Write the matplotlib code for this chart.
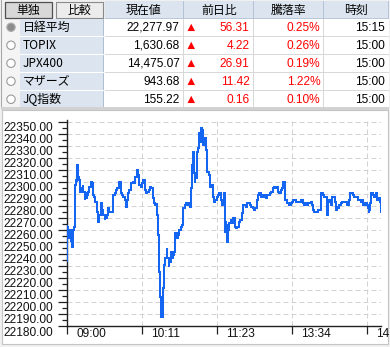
import matplotlib
matplotlib.use('Agg')
import matplotlib.pyplot as plt
from matplotlib.patches import Rectangle, Circle, Polygon
import matplotlib.transforms as mtrans
import numpy as np

W, H, DPI = 390, 347, 100

# ---------------- data ----------------
buttons = ['単独', '比較']
header_labels = ['現在値', '前日比', '騰落率', '時刻']
index_names = ['日経平均', 'TOPIX', 'JPX400', 'マザーズ', 'JQ指数']
prices = ['22,277.97', '1,630.68', '14,475.07', '943.68', '155.22']
changes = ['56.31', '4.22', '26.91', '11.42', '0.16']
change_pct = ['0.25%', '0.26%', '0.19%', '1.22%', '0.10%']
update_times = ['15:15', '15:00', '15:00', '15:00', '15:00']

# trading minutes since 09:00 (lunch break removed)
minutes = [
    0.0, 0.3, 0.6, 1.2, 1.9, 3.1, 3.8, 4.4, 5.0, 5.6, 6.3, 6.9, 7.5, 8.2, 8.8, 9.4, 10.1, 10.7, 11.3,
    12.6, 13.2, 13.9, 15.1, 15.7, 17.0, 17.6, 18.3, 19.5, 20.2, 21.4, 22.7, 23.9, 24.6, 25.9, 27.1,
    28.4, 29.0, 29.6, 30.9, 32.2, 33.4, 34.7, 35.9, 36.6, 37.8, 39.1, 40.4, 41.6, 42.9, 44.2, 45.4,
    46.7, 47.9, 49.2, 49.8, 51.1, 52.4, 53.6, 54.9, 56.1, 56.8, 58.0, 59.3, 60.6, 61.8, 63.1, 63.7,
    65.0, 66.2, 67.5, 68.8, 70.0, 71.3, 72.6, 73.8,
    75.1, 76.3, 77.6, 78.9, 80.1, 81.4, 82.7, 83.9, 85.2, 85.8, 86.4, 87.1, 88.3, 89.0, 89.6, 90.2,
    90.9, 91.5, 92.1, 93.4, 94.6, 95.3, 96.5, 97.2, 98.4, 99.7, 101.0, 101.6, 102.9, 104.1, 105.4,
    106.6, 107.9, 109.2, 110.4, 111.7, 113.0, 114.2, 115.5, 116.7, 118.0, 118.6, 119.3, 120.5, 121.2,
    121.8, 122.4, 123.1, 123.7, 124.3, 125.6, 126.2, 126.8, 127.5, 128.1, 128.7, 130.0, 131.3, 131.9,
    133.1, 134.4, 135.7, 136.9, 138.2, 139.5, 140.7, 142.0, 143.3, 144.5, 145.8, 147.0,
    147.7, 148.9, 149.5, 150.2, 150.8, 152.1, 152.7, 154.0, 155.2, 156.5, 157.8, 159.0, 160.3, 161.5,
    162.8, 164.1, 165.9, 166.6, 167.2, 168.5, 169.7, 171.0, 172.3, 173.5, 174.8, 176.1, 177.3, 178.6,
    179.8, 180.5, 181.1, 182.4, 183.6, 184.9, 186.2, 187.4, 188.7, 190.0, 191.2, 192.5, 193.7, 195.0,
    196.3, 197.5, 198.8, 200.0, 201.3, 202.6, 203.8, 205.1, 206.4, 207.0, 208.3, 209.5, 210.8, 212.0,
    213.3, 214.6, 215.8, 217.1, 218.3, 219.6,
    220.9, 222.1, 223.4, 224.6, 225.9, 227.2, 228.4, 229.7, 231.0, 232.2, 232.9, 234.1, 235.4, 236.6,
    237.9, 239.2, 240.4, 241.1, 242.3, 243.6, 244.8, 246.1, 246.7, 247.4, 248.6, 249.9, 251.2, 252.4,
    253.7, 254.3, 255.0, 255.6, 256.8, 258.1, 259.4, 260.6, 261.9, 263.2, 264.4, 265.7, 266.9, 268.2,
    269.5, 270.7, 272.0, 273.3, 274.5, 275.8, 277.0, 278.3, 279.6, 280.8, 282.1, 283.4, 284.6, 285.2,
    285.9, 286.5, 287.1, 288.4, 289.7, 290.9, 292.2, 292.8, 293.5, 294.1, 295.4, 296.6, 297.2, 297.9,
]
nikkei = [
    22234.0, 22264.0, 22262.6, 22259.9, 22252.9, 22259.9, 22250.2, 22252.9, 22246.0, 22250.2, 22259.9,
    22262.6, 22261.2, 22297.3, 22301.5, 22300.0, 22313.9, 22304.2, 22301.5,
    22291.8, 22296.0, 22293.2, 22297.3, 22291.8, 22284.8, 22290.4, 22286.2, 22288.9, 22291.8, 22296.0,
    22300.0, 22298.7, 22288.9, 22287.5, 22283.4,
    22280.6, 22275.1, 22266.8, 22272.3, 22282.0, 22276.5, 22272.3, 22268.2, 22269.5, 22272.3, 22277.9,
    22275.1, 22275.1, 22275.1, 22288.9, 22290.4,
    22293.1, 22294.5, 22294.5, 22300.0, 22290.4, 22288.9, 22287.5, 22284.8, 22279.3, 22284.8, 22290.4,
    22293.1, 22298.7, 22298.7, 22300.0, 22298.7,
    22304.2, 22309.8, 22305.6, 22297.3, 22296.0, 22298.7, 22301.5, 22293.1,
    22290.4, 22291.8, 22293.1, 22296.0, 22294.5, 22286.2, 22282.0, 22280.6, 22282.0, 22272.3, 22255.7,
    22225.2, 22204.4, 22186.4, 22191.9, 22187.8,
    22204.4, 22211.3, 22230.7, 22236.3, 22244.6, 22236.3, 22229.4, 22233.5, 22241.8, 22236.3, 22239.0,
    22241.8, 22257.1, 22252.9, 22255.7,
    22259.9, 22262.6, 22264.0, 22277.9, 22280.6, 22282.0, 22280.6, 22282.0, 22279.3, 22294.5, 22313.9,
    22325.0, 22307.0, 22298.7,
    22302.9, 22302.9, 22311.2, 22325.0, 22327.7, 22340.3, 22333.4, 22338.9, 22344.5, 22343.1, 22330.6,
    22334.7, 22336.1, 22326.4,
    22308.4, 22305.6, 22296.0, 22297.3, 22287.5, 22283.4, 22284.8, 22287.5, 22288.9, 22290.4, 22284.8,
    22280.6,
    22283.4, 22290.4, 22257.1, 22266.8, 22264.0, 22249.5, 22259.9, 22265.4, 22268.2, 22265.4, 22269.6,
    22262.6, 22261.2, 22262.6,
    22266.8, 22268.2, 22273.7, 22276.5, 22280.6, 22280.6, 22279.3, 22282.0, 22282.0, 22280.6, 22279.3,
    22277.9, 22276.5, 22277.9,
    22279.3, 22284.8, 22288.9, 22290.4, 22287.5, 22288.9, 22287.5, 22288.9, 22286.2, 22288.9, 22288.9,
    22290.4, 22291.8, 22294.5,
    22296.0, 22294.5, 22296.0, 22291.8, 22290.4, 22293.1, 22294.5, 22300.0, 22297.3, 22284.8, 22282.0,
    22282.0, 22280.6, 22282.0,
    22283.4, 22284.8, 22284.8, 22283.4, 22283.4, 22283.4,
    22283.4, 22284.8, 22282.0, 22280.6, 22282.0, 22280.6, 22282.0, 22282.0, 22283.4, 22280.6, 22276.5,
    22275.1, 22275.1, 22275.1,
    22276.5, 22276.5, 22286.2, 22290.4, 22288.9, 22287.5, 22287.5, 22286.2, 22272.3, 22283.4, 22284.8,
    22280.6, 22287.5, 22287.5,
    22286.2, 22283.4, 22276.5, 22279.3, 22277.9, 22280.6, 22282.0, 22283.4, 22283.4, 22283.4, 22283.4,
    22280.6, 22284.8, 22290.4,
    22290.4, 22288.9, 22287.5, 22287.5, 22287.5, 22284.8, 22284.8, 22283.4, 22284.8, 22280.6, 22282.0,
    22282.0, 22280.6, 22277.9,
    22273.7, 22276.5, 22282.0, 22290.4, 22288.9, 22287.5, 22288.9, 22290.4, 22286.2, 22284.8, 22286.2,
    22283.4, 22280.6, 22275.1,
]
xtick_pos = [0, 71, 142, 213, 284]
xtick_labels = ['09:00', '10:11', '11:23', '13:34', '14:45']
y_min, y_max = 22180, 22351.4

# ---------------- figure ----------------
CJK = ['Noto Sans CJK JP', 'DejaVu Sans']
NUM = ['Liberation Sans Narrow', 'Liberation Sans', 'DejaVu Sans']

fig = plt.figure(figsize=(W / DPI, H / DPI), dpi=DPI)
fig.patch.set_facecolor('#f0f0f0')
bg = fig.add_axes([0, 0, 1, 1])
bg.set_xlim(0, W)
bg.set_ylim(H, 0)
bg.axis('off')

def rect(x, y, w, h, fc, ec='none', lw=0, z=1):
    bg.add_patch(Rectangle((x, y), w, h, facecolor=fc, edgecolor=ec, linewidth=lw, zorder=z))

# outer frame
rect(0, 0, W, H, '#f0f0f0')
rect(1, 0, 1.2, 108, '#a8a8a8', z=2)
# header
rect(3, 0, 102, 18.5, '#f0f0f0')
rect(105, 0.5, 284, 18, '#dce5ef')
rect(105, 18, 284, 0.8, '#b8c8d8', z=2)
for sx in [183, 253, 323]:
    rect(sx, 0.5, 0.9, 18, '#b4c4d6', z=2)
rect(388, 0.5, 0.9, 18, '#b4c4d6', z=2)
# buttons
rect(5, 2, 47, 15.5, '#d8d8d8', '#505050', 0.9, z=2)
rect(56, 2, 47, 15.5, '#ececec', '#8a8a8a', 0.8, z=2)
bg.text(28.5, 10, buttons[0], family=CJK, fontsize=8.6, ha='center', va='center', zorder=3)
bg.text(79.5, 10, buttons[1], family=CJK, fontsize=8.6, ha='center', va='center', zorder=3)
hdr_x = [143, 219, 288, 356]
for hx, lab in zip(hdr_x, header_labels):
    bg.text(hx, 10, lab, family=CJK, fontsize=8.6, ha='center', va='center', zorder=3)

# rows
row_top = [18.5, 36.5, 54.5, 72.5, 90.5]
row_h = 17.5
rect(3, 18.5, 386, 89, '#ffffff')
for i, name in enumerate(index_names):
    y0 = row_top[i]
    yc = y0 + row_h / 2
    rect(3, y0, 17, row_h + 0.5, '#f4f4f4')
    rect(20, y0 + 0.6, 83, row_h - 1.0, '#dbe4ef', z=2)
    rect(103, y0 + 0.6, 1.2, row_h - 1.0, '#aebfd2', z=2)
    rect(105, y0 + row_h, 284, 0.8, '#d8d8d8', z=2)
    for sx in [183, 253, 323]:
        rect(sx, y0, 0.8, row_h + 0.5, '#d8d8d8', z=2)
    sel = (i == 0)
    bg.add_patch(Circle((11, yc), 4.2, facecolor='#8c8c8c' if sel else '#ffffff',
                        edgecolor='#b0b0b0' if sel else '#9a9a9a', linewidth=0.8, zorder=3))
    bg.text(23, yc + 0.3, name, family=CJK, fontsize=8.6, ha='left', va='center', zorder=3)
    bg.text(179.5, yc + 0.3, prices[i], family=NUM, fontsize=8.6, ha='right', va='center', zorder=3)
    bg.add_patch(Polygon([(187.5, yc + 3.8), (195, yc + 3.8), (191.25, yc - 3.5)], closed=True,
                         facecolor='#ff0000', edgecolor='none', zorder=3))
    bg.text(249.5, yc + 0.3, changes[i], family=NUM, fontsize=8.6, ha='right', va='center',
            color='#ff0000', zorder=3)
    bg.text(320.5, yc + 0.3, change_pct[i], family=NUM, fontsize=8.6, ha='right', va='center',
            color='#ff0000', zorder=3)
    bg.text(384.5, yc + 0.3, update_times[i], family=NUM, fontsize=8.6, ha='right', va='center',
            zorder=3)
# separator band
rect(1, 107, 388, 3, '#d2d2d2', z=2)
# chart panel
rect(2, 110, 385.5, 234, '#ffffff', '#c4c4c4', 0.8, z=2)

# ---------------- chart ----------------
L, R, T, B = 66.7, 380.7, 120.0, 326.0
ax = fig.add_axes([L / W, (H - B) / H, (R - L) / W, (B - T) / H])
ax.set_facecolor('none')
ax.set_zorder(5)
ax.plot(minutes, nikkei, drawstyle='steps-post', color='#1466f2', linewidth=1.45,
        solid_joinstyle='miter', zorder=3)
ax.set_xlim(0, 297.3)
ax.set_ylim(y_min, y_max)
for s in ['top', 'right']:
    ax.spines[s].set_visible(False)
for s in ['left', 'bottom']:
    ax.spines[s].set_color('#202020')
    ax.spines[s].set_linewidth(1.0)

yt = np.arange(22180, 22351, 10)
ax.set_yticks(yt)
ax.set_yticklabels([f'{v:.2f}' for v in yt], family=NUM, fontsize=8.6, color='#101010')
ax.set_yticks(np.arange(22185, 22351, 10), minor=True)
ax.set_xticks(xtick_pos)
ax.set_xticklabels(xtick_labels, family=NUM, fontsize=8.6, color='#101010')
ax.tick_params(axis='y', which='major', length=6.5, width=0.9, color='#202020', pad=3.5)
ax.tick_params(axis='y', which='minor', length=3.6, width=0.9, color='#202020')
ax.tick_params(axis='x', which='major', length=5.8, width=0.9, color='#202020', pad=0)
ax.grid(True, which='major', color='#d2d2d2', linestyle=(0, (5, 3)), linewidth=0.72)
ax.set_axisbelow(True)

dy = mtrans.ScaledTranslation(0, -5 / DPI, fig.dpi_scale_trans)
for lab in ax.get_yticklabels():
    lab.set_transform(lab.get_transform() + dy)
dx = mtrans.ScaledTranslation(9.5 / DPI, 6 / DPI, fig.dpi_scale_trans)
for lab in ax.get_xticklabels():
    lab.set_ha('left')
    lab.set_transform(lab.get_transform() + dx)

fig.savefig('out.png', dpi=DPI, facecolor=fig.get_facecolor())
